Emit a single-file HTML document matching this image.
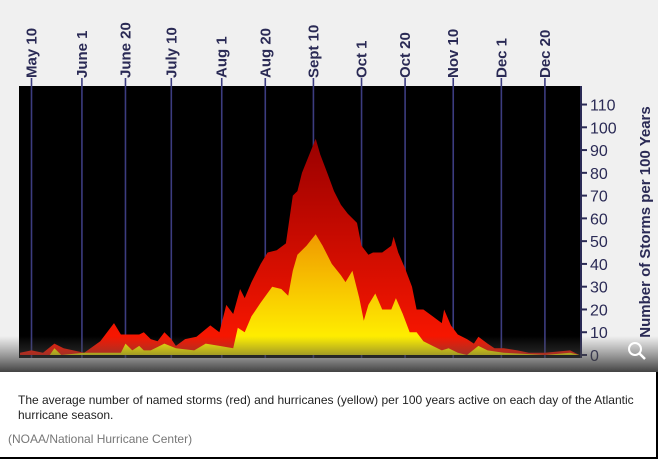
<!DOCTYPE html>
<html><head><meta charset="utf-8"><style>
html,body{margin:0;padding:0;width:658px;height:459px;overflow:hidden;background:#fff;font-family:"Liberation Sans",sans-serif}
#wrap{position:relative;width:658px;height:459px}
#cap{position:absolute;left:18px;top:393px;font-size:12px;line-height:14.5px;color:#222}
#src{position:absolute;left:8px;top:432px;font-size:12px;color:#777}
</style></head><body>
<div id="wrap">
<svg id="chart" width="658" height="372" style="position:absolute;left:0;top:0">
<defs>
<linearGradient id="gr" gradientUnits="userSpaceOnUse" x1="0" y1="140" x2="0" y2="355"><stop offset="0" stop-color="#9a0000"/><stop offset="1" stop-color="#ff1800"/></linearGradient>
<linearGradient id="gy" gradientUnits="userSpaceOnUse" x1="0" y1="235" x2="0" y2="340"><stop offset="0" stop-color="#f09a00"/><stop offset="1" stop-color="#fff000"/></linearGradient>
<linearGradient id="ov" x1="0" y1="0" x2="0" y2="1"><stop offset="0" stop-color="#555" stop-opacity="0"/><stop offset="1" stop-color="#3a3a3a" stop-opacity="0.95"/></linearGradient>
</defs>
<rect x="0" y="0" width="658" height="372" fill="#f0f0f0"/>
<rect x="19" y="86" width="562" height="272" fill="#000"/>
<g id="grid"></g>
<g id="series"></g>
<g id="yaxis"></g>
<text x="650" y="222" transform="rotate(-90 650 222)" text-anchor="middle" font-size="15" font-weight="bold" fill="#2a2a55">Number of Storms per 100 Years</text>
<rect x="0" y="336" width="658" height="36" fill="url(#ov)"/>
<g><circle cx="635" cy="349" r="6" fill="none" stroke="#fff" stroke-width="2"/><line x1="639" y1="353" x2="645" y2="359" stroke="#fff" stroke-width="2.5"/></g>
</svg>
<div id="cap">The average number of named storms (red) and hurricanes (yellow) per 100 years active on each day of the Atlantic<br>hurricane season.</div>
<div id="src">(NOAA/National Hurricane Center)</div>
<div style="position:absolute;right:0;top:372px;width:2px;height:87px;background:#000"></div>
<div style="position:absolute;left:0;bottom:0;width:658px;height:2px;background:#000"></div>
</div>
<script>
const dateLabels=["May 10","June 1","June 20","July 10","Aug 1","Aug 20","Sept 10","Oct 1","Oct 20","Nov 10","Dec 1","Dec 20"];
const dateDays=[9,31,50,70,92,111,132,153,172,193,214,233];
const yTicks=[0,10,20,30,40,50,60,70,80,90,100,110];
const redDays=[4,9,14,19,23,32,39,45,48,50,56,58,61,64,67,70,72,76,81,87,91,94,97,100,102,105,109,112,116,120,123,125,127,131,133,135,138,141,144,147,151,153,156,158,162,166,167,169,172,175,177,180,184,188,189,192,195,199,202,204,208,211,215,221,226,233,244,248];
const redVals=[1,2,1,5,3,1,6,14,9,9,9,10,7,6,10,7,4,7,8,13,10,22,18,29,25,32,40,45,46,49,70,72,80,90,95,88,80,72,66,62,58,48,44,45,45,48,52,45,38,30,20,20,17,14,20,13,9,7,5,8,5,3,3,2,1,1,2,0];
const yelDays=[4,17,19,22,32,48,50,53,56,58,61,67,72,80,85,91,97,99,102,105,109,114,118,121,123,125,129,133,136,140,144,146,149,152,154,156,159,162,166,168,171,174,177,180,184,188,191,195,199,204,208,215,233,244,248];
const yelVals=[0,0,3,0,1,1,5,2,4,2,2,5,3,2,5,4,3,12,10,17,23,30,29,26,37,44,48,53,48,40,35,32,37,25,15,22,27,20,20,25,18,10,10,6,4,2,3,1,0,4,2,1,0,1,0];
const NS="http://www.w3.org/2000/svg";
function xs(d){return 31.5+(d-9)*2.292;}
function ys(v){return 355-v*2.277;}
function mk(t,a,p){const e=document.createElementNS(NS,t);for(const k in a)e.setAttribute(k,a[k]);p.appendChild(e);return e;}
const grid=document.getElementById('grid');
dateDays.forEach((d,i)=>{
  const l=mk('line',{x1:xs(d),x2:xs(d),y1:78,y2:358,stroke:'#3c3c80','stroke-width':1.6},grid);
  
  
  const t=mk('text',{x:xs(d)+5,y:78,transform:`rotate(-90 ${xs(d)+5} 78)`,'font-size':15,'font-weight':'bold',fill:'#2a2a55'},grid);
  t.textContent=dateLabels[i];
  
  
});
const ser=document.getElementById('series');
function area(days,vals,fill,name){
  let p=`M${xs(days[0])},${ys(0)}`;
  days.forEach((d,i)=>{p+=` L${xs(d).toFixed(1)},${ys(vals[i]).toFixed(1)}`;});
  p+=` L${xs(days[days.length-1])},${ys(0)} Z`;
  const e=mk('path',{d:p,fill:fill},ser);
  
  
}
area(redDays,redVals,'url(#gr)','named-storms-area');
area(yelDays,yelVals,'url(#gy)','hurricanes-area');
const ya=document.getElementById('yaxis');
const ax=mk('line',{x1:581,x2:581,y1:86,y2:358,stroke:'#2a2a55','stroke-width':2},ya);


yTicks.forEach(v=>{
  const tk=mk('line',{x1:581,x2:587,y1:ys(v),y2:ys(v),stroke:'#2a2a55','stroke-width':2},ya);
  
  
  const t=mk('text',{x:590,y:ys(v)+6,'font-size':16,fill:'#2a2a55'},ya);
  t.textContent=v;
  
  
});
</script>
</body></html>
